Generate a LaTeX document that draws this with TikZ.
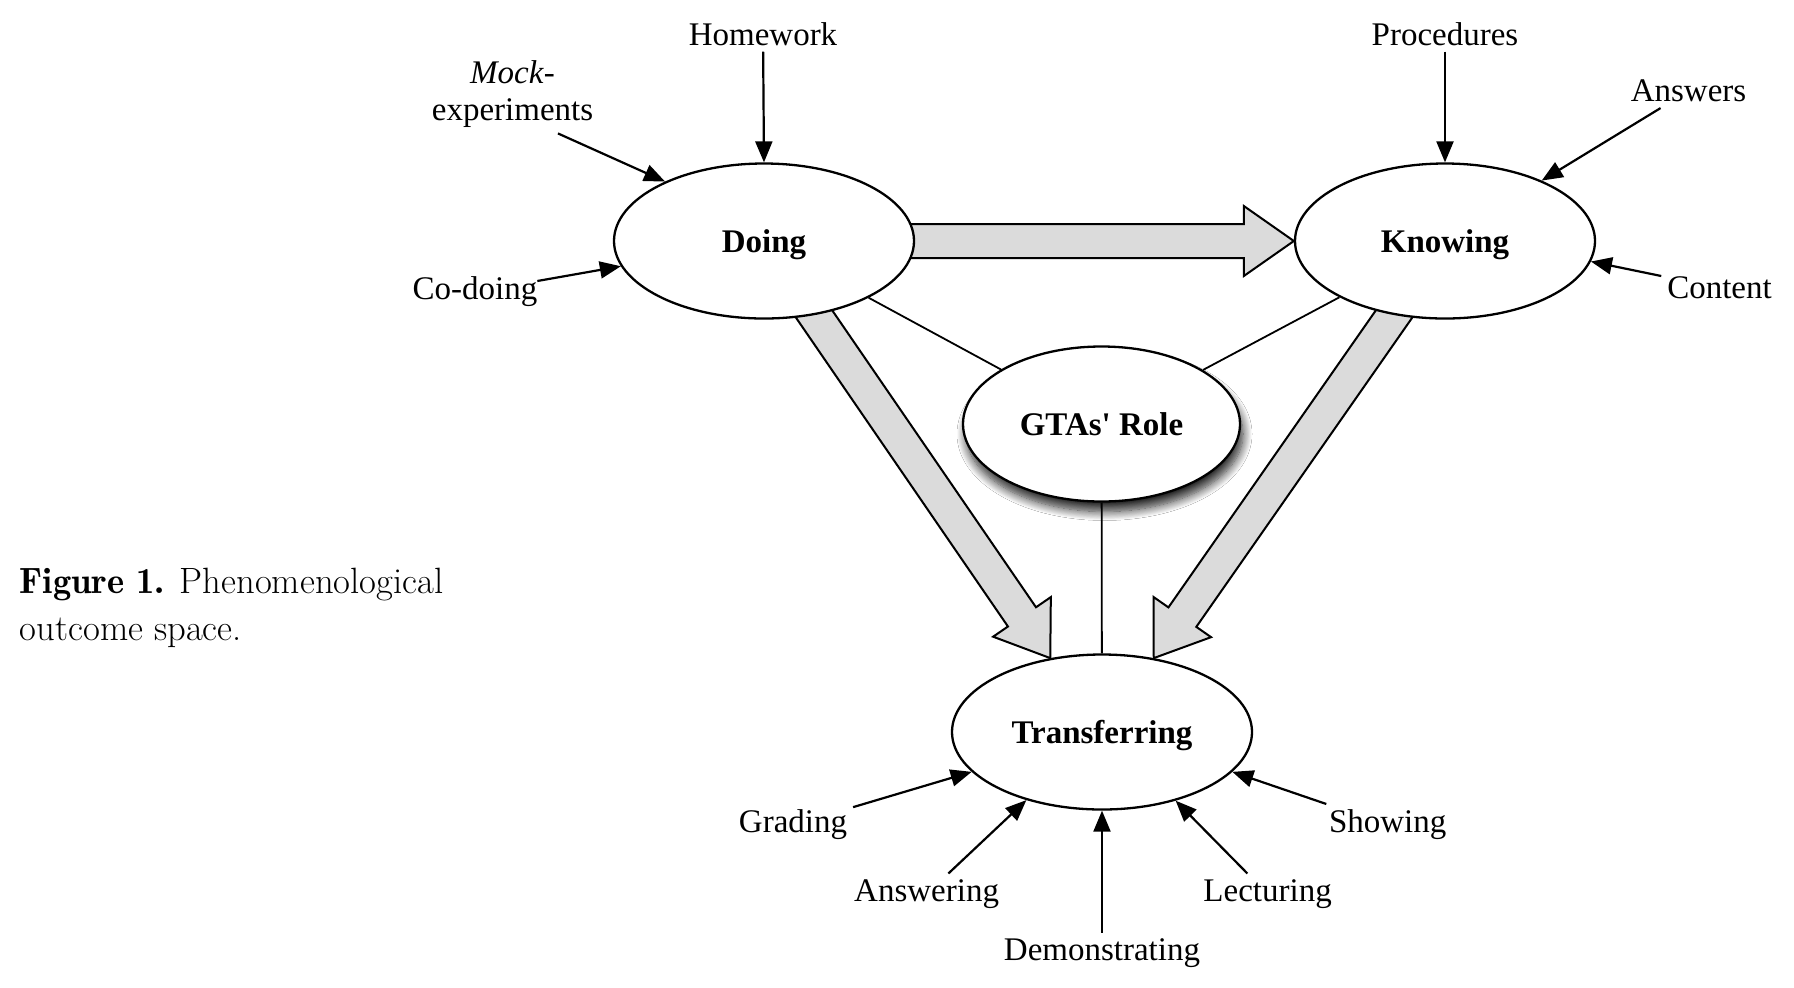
\documentclass[tikz,border=0pt]{standalone}
\usepackage{fontspec}
\newfontfamily\diagfont{Liberation Serif}
\newfontfamily\captiondemi{Latin Modern Roman Demi}
\usetikzlibrary{arrows.meta,calc,shapes.geometric,shadows.blur,backgrounds}

\tikzset{
  concept/.style={ellipse, draw, line width=1.15pt, fill=white, minimum width=150pt, minimum height=77.5pt, inner sep=0pt, text depth=0pt, font=\diagfont\fontsize{16.5}{19}\selectfont\bfseries},
  factor/.style={inner sep=0pt, outer sep=3pt, font=\diagfont\fontsize{16.5}{19}\selectfont},
  feed/.style={-{Triangle[length=10.5pt,width=8.5pt]}, line width=1.1pt},
  link/.style={line width=0.9pt},
  bigarrow/.style={draw, line width=1pt, fill=gray!28, line join=miter},
  caption/.style={anchor=base west, inner sep=0pt, font=\fontsize{18.3}{23.5}\selectfont},
}

% block arrow from #1 to the tip #2
\newcommand{\blockarrow}[2]{%
  \coordinate (hb) at ($(#2)!25pt!(#1)$);
  \path[bigarrow] ($(#1)!8.5pt!90:(#2)$)
    -- ($(hb)!8.5pt!90:(#2)$) -- ($(hb)!17.5pt!90:(#2)$)
    -- (#2)
    -- ($(hb)!17.5pt!-90:(#2)$) -- ($(hb)!8.5pt!-90:(#2)$)
    -- ($(#1)!8.5pt!-90:(#2)$) -- cycle;}

\begin{document}
\begin{tikzpicture}[x=0.5pt,y=-0.5pt]
	\useasboundingbox (0,0) rectangle (1794,987);

	% the four phases
	\node[concept] (doing) at (764,241) {Doing};
	\node[concept] (knowing) at (1445,241) {Knowing};
	\node[concept, minimum width=138.5pt, blur shadow={shadow xshift=1.5pt, shadow yshift=-5pt, shadow blur radius=4.5pt, shadow blur steps=12, shadow opacity=85}] (gtas) at (1101.5,424) {GTAs\textquotesingle\ Role};
	\node[concept] (transferring) at (1102,732) {Transferring};

	% outcomes
	\node[factor] (homework) at (763,34) {Homework};
	\node[factor] (mock) at (512.5,72) {\textit{Mock}-};
	\node[factor] (experiments) at (512.5,113) {experiments};
	\node[factor, outer sep=0pt] (codoing) at (475,292) {Co-doing};
	\node[factor] (procedures) at (1445,34) {Procedures};
	\node[factor] (answers) at (1688.5,91) {Answers};
	\node[factor] (content) at (1719.5,288) {Content};
	\node[factor] (grading) at (793,825) {Grading};
	\node[factor] (answering) at (926.6,894) {Answering};
	\node[factor] (demonstrating) at (1102,953) {Demonstrating};
	\node[factor] (lecturing) at (1267.6,894) {Lecturing};
	\node[factor] (showing) at (1387.7,825) {Showing};

	\draw[feed] (homework) -- (doing.north);
	\draw[feed] (experiments) -- (doing.149);
	\draw[feed] (codoing) -- (doing.190);
	\draw[feed] (procedures) -- (knowing.north);
	\draw[feed] (answers) -- (knowing.32);
	\draw[feed] (content) -- (knowing.352);
	\draw[feed] (grading) -- (transferring.197);
	\draw[feed] (answering) -- (transferring.222);
	\draw[feed] (demonstrating) -- (transferring.south);
	\draw[feed] (lecturing) -- (transferring.317);
	\draw[feed] (showing) -- (transferring.343);

	\draw[link] (doing) -- (gtas);
	\draw[link] (knowing) -- (gtas);
	\draw[link] (gtas) -- (transferring);

	\begin{scope}[on background layer]
		\fill[white] (0,0) rectangle (1794,987);
		\blockarrow{doing.center}{knowing.west}
		\blockarrow{doing.center}{transferring.125}
		\blockarrow{knowing.center}{transferring.55}
	\end{scope}

	% caption
	\node[caption] (captionfirst) at (19.5,593) {{\captiondemi Figure 1.} Phenomenological};
	\node[caption] (captionsecond) at (19.5,640) {outcome space.};
\end{tikzpicture}
\end{document}
